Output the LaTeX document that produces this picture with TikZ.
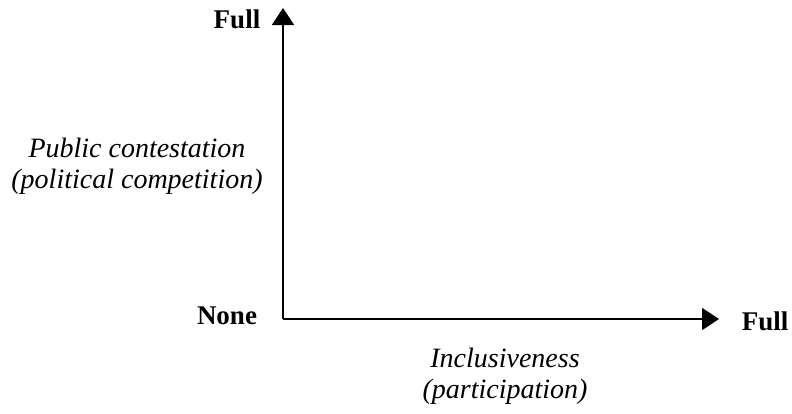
\documentclass[tikz,border=0pt]{standalone}
\usepackage{fontspec}
\setmainfont{Liberation Serif}
\usetikzlibrary{arrows.meta, positioning}

\begin{document}
\begin{tikzpicture}[x=1pt, y=-1pt,
    axis/.style = {line width=1.8pt, -{Triangle[length=17pt, width=22pt]}},
    endlabel/.style = {font=\fontsize{27}{31}\selectfont\bfseries, anchor=base, inner sep=0pt},
    axlabel/.style = {font=\fontsize{28}{31}\selectfont\itshape, align=center, inner sep=0pt}]
    \useasboundingbox (0,0) rectangle (792,413);
    \coordinate (O) at (283,319);
    \coordinate (ytip) at (283,8);
    \coordinate (xtip) at (719,319);
    \draw[axis] (O) -- (ytip);
    \draw[axis] (O) -- (xtip);
    \node[endlabel] (yfull) at (237,28) {Full};
    \node[endlabel] (none) at (227,324) {None};
    \node[endlabel] (xfull) at (765,330) {Full};
    % base of a two-line node is the last line
    \node[axlabel, anchor=base] (ylab) at (137,188) {Public contestation\\(political competition)};
    \node[axlabel, anchor=base] (xlab) at (505,398) {Inclusiveness\\(participation)};
\end{tikzpicture}
\end{document}
